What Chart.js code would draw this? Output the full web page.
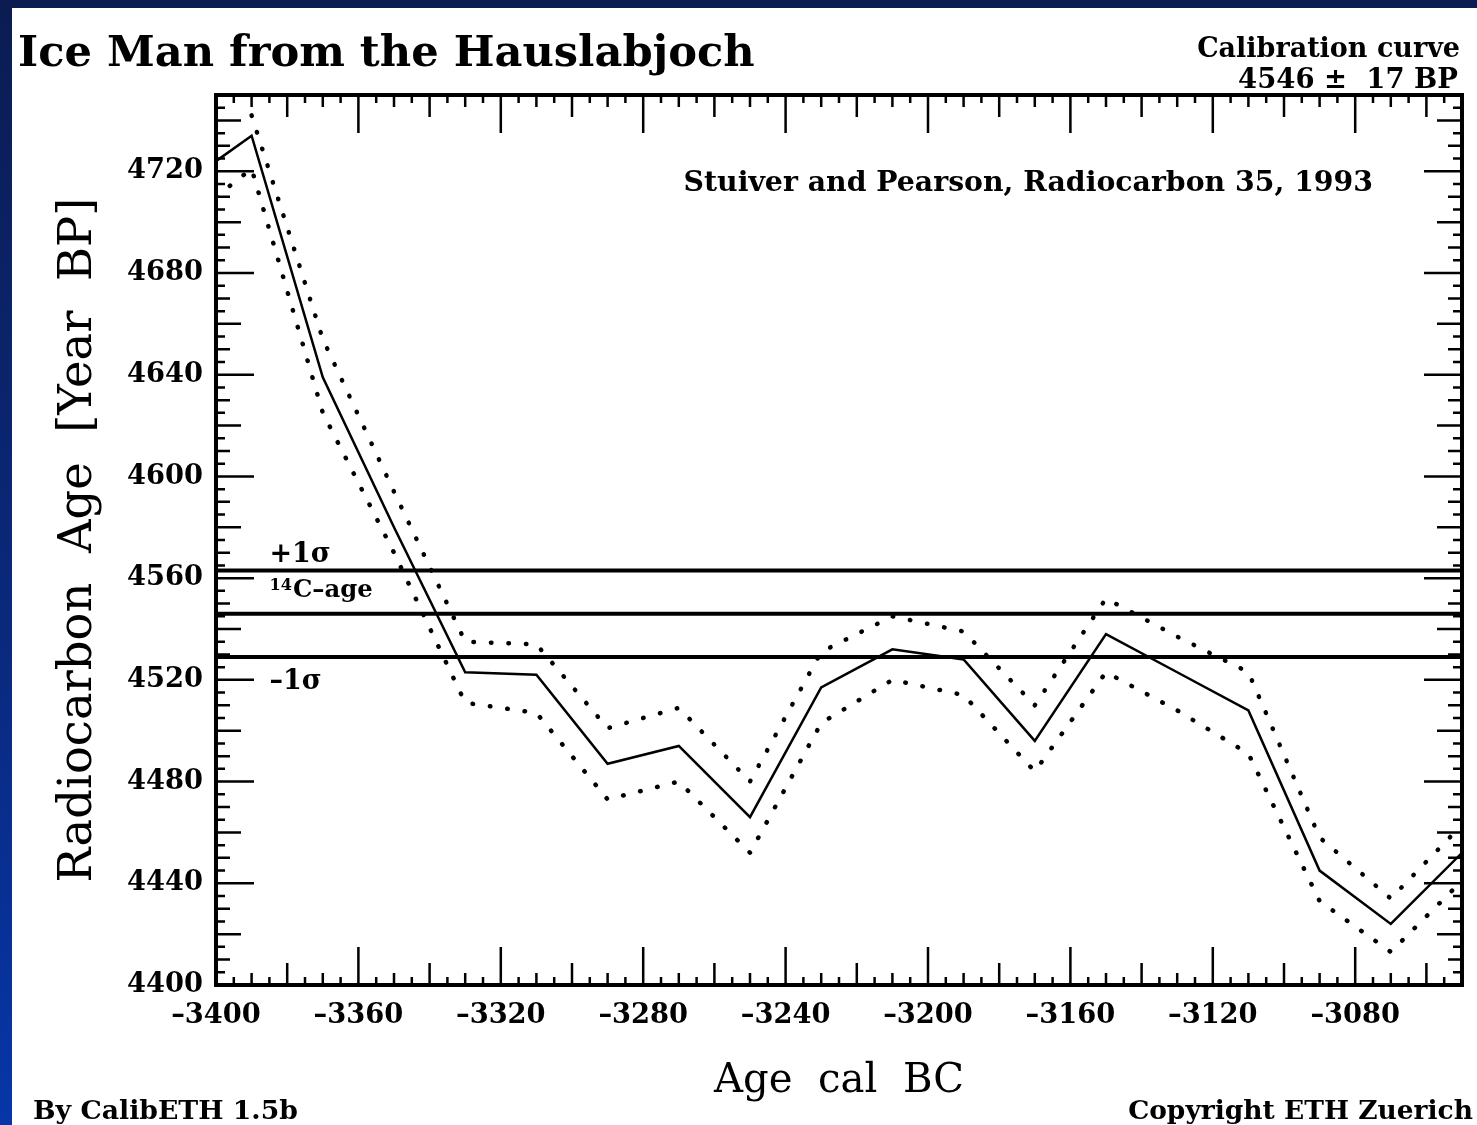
<!DOCTYPE html>
<html>
<head>
<meta charset="utf-8">
<title>Ice Man from the Hauslabjoch</title>
<script src="https://cdn.jsdelivr.net/npm/chart.js@4.4.1/dist/chart.umd.min.js"></script>
<style>
  html, body { margin: 0; padding: 0; }
  body {
    width: 1477px; height: 1125px; overflow: hidden; position: relative;
    background: linear-gradient(180deg, #0b1c52 0%, #0a2a80 60%, #0636a8 100%);
    font-family: 'DejaVu Serif', 'Liberation Serif', serif;
  }
  #sheet { position: absolute; left: 12px; top: 8px; width: 1465px; height: 1117px; background: #fff; }
  #chart { position: absolute; left: 0; top: 0; }
  .txt { position: absolute; color: #000; font-weight: bold; white-space: pre; line-height: 1; }
</style>
</head>
<body>
<div id="sheet">
  <canvas id="chart" width="1465" height="1117"></canvas>
  <div class="txt" id="title">Ice Man from the Hauslabjoch</div>
  <div class="txt" id="calib">Calibration curve</div>
  <div class="txt" id="calibVal">4546 ±  17 BP</div>
  <div class="txt" id="calibBy">By CalibETH 1.5b</div>
  <div class="txt" id="copyright">Copyright ETH Zuerich</div>
</div>
<script>
/* Ice Man calibration plot */

const SERIF = "'DejaVu Serif', 'Liberation Serif', serif";

// ─── Data ───
const calYears = [-3400, -3390, -3370, -3350, -3330, -3310, -3290, -3270, -3250, -3230,
  -3210, -3190, -3170, -3150, -3130, -3110, -3090, -3070, -3050];
const curveAge = [4724, 4734, 4639, 4580, 4523, 4522, 4487, 4494, 4466, 4517,
  4532, 4528, 4496, 4538, 4523, 4508, 4445, 4424, 4452];
const curveUpper = [null, 4742, 4654, 4594, 4535, 4534, 4501, 4509, 4480, 4531,
  4545, 4539, 4510, 4552, 4537, 4523, 4458, 4434, 4463];
const curveLower = [4710, 4721, 4625, 4570, 4511, 4507, 4473, 4480, 4452, 4503,
  4520, 4514, 4484, 4523, 4508, 4491, 4433, 4413, 4441];

const c14Age = 4546;
const c14Sigma = 17;

const xTicks = [-3400, -3360, -3320, -3280, -3240, -3200, -3160, -3120, -3080];
const yTicks = [4400, 4440, 4480, 4520, 4560, 4600, 4640, 4680, 4720];
const xMin = -3400, xMax = -3050;
const yMin = 4400, yMax = 4750;

const toPoints = (ys) => calYears.map((x, i) => ({ x, y: ys[i] }));
const hLine = (y) => [{ x: xMin, y }, { x: xMax, y }];

// ─── Text fitting ───
const measure = document.createElement('canvas').getContext('2d');
function fitSize(text, width, weight = 'normal') {
  measure.font = `${weight} 100px ${SERIF}`;
  return (100 * width) / measure.measureText(text).width;
}

// place an html label: cap-centre at cy (sheet coords)
function place(id, width, cy, side, offset) {
  const node = document.getElementById(id);
  const size = fitSize(node.textContent, width, 'bold');
  node.style.fontSize = `${size}px`;
  node.style.top = `${cy - 0.4 * size}px`;
  node.style[side] = `${offset}px`;
}
place('title', 737, 38, 'left', 6);
place('calib', 263, 37, 'right', 17);
place('calibVal', 220, 68, 'right', 19);
place('calibBy', 265, 1100, 'left', 21);
place('copyright', 345, 1100, 'right', 4);

const tickSize = fitSize('4720', 76, 'bold');
const xTitleText = 'Age  cal  BC';
const yTitleText = 'Radiocarbon  Age  [Year  BP]';
const xTitleSize = fitSize(xTitleText, 250);
const yTitleSize = fitSize(yTitleText, 685);

// ─── Frame, minor ticks and labels in the plot ───
const frameAndTicks = {
  id: 'frameAndTicks',
  afterDatasetsDraw(chart) {
    const { ctx, chartArea: a, scales: { x, y } } = chart;
    const every = (v, n) => Math.abs(v % n) === 0;
    ctx.save();
    ctx.strokeStyle = '#000';
    ctx.lineWidth = 2.5;
    ctx.beginPath();
    for (let v = xMin; v <= xMax; v += 5) {
      const len = every(v, 40) ? 38 : every(v, 20) ? 22 : every(v, 10) ? 12 : 8;
      const px = x.getPixelForValue(v);
      ctx.moveTo(px, a.bottom); ctx.lineTo(px, a.bottom - len);
      ctx.moveTo(px, a.top); ctx.lineTo(px, a.top + len);
    }
    for (let v = yMin; v <= yMax; v += 5) {
      const len = every(v, 40) ? 38 : every(v, 20) ? 25 : every(v, 10) ? 14 : 9;
      const py = y.getPixelForValue(v);
      ctx.moveTo(a.left, py); ctx.lineTo(a.left + len, py);
      ctx.moveTo(a.right, py); ctx.lineTo(a.right - len, py);
    }
    ctx.stroke();
    ctx.lineWidth = 4;
    ctx.strokeRect(a.left, a.top, a.right - a.left, a.bottom - a.top);

    // labels
    ctx.fillStyle = '#000';
    const ref = 'Stuiver and Pearson, Radiocarbon 35, 1993';
    ctx.font = `bold ${fitSize(ref, 690, 'bold')}px ${SERIF}`;
    ctx.textAlign = 'right';
    ctx.textBaseline = 'middle';
    ctx.fillText(ref, x.getPixelForValue(-3075), y.getPixelForValue(4715));

    ctx.textAlign = 'left';
    const lx = x.getPixelForValue(-3385);
    const small = 27;
    ctx.font = `bold ${small}px ${SERIF}`;
    ctx.textBaseline = 'bottom';
    ctx.fillText('+1σ', lx, y.getPixelForValue(c14Age + c14Sigma) - 2);
    ctx.textBaseline = 'top';
    ctx.fillText('–1σ', lx, y.getPixelForValue(c14Age - c14Sigma) + 12);

    const ageTop = y.getPixelForValue(c14Age + c14Sigma) + 8;
    ctx.font = `bold ${small * 0.6}px ${SERIF}`;
    ctx.fillText('14', lx, ageTop - 1);
    const supW = ctx.measureText('14').width;
    ctx.font = `bold ${small * 0.9}px ${SERIF}`;
    ctx.fillText('C–age', lx + supW + 1, ageTop);
    ctx.restore();
  },
};

// ─── Chart ───
Chart.defaults.color = '#000';
Chart.defaults.font.family = SERIF;

const dotted = { borderColor: '#000', borderWidth: 4.5, borderDash: [0.5, 17], borderCapStyle: 'round', pointRadius: 0, spanGaps: false };
const rule = { borderColor: '#000', borderWidth: 4, pointRadius: 0 };

new Chart(document.getElementById('chart'), {
  type: 'line',
  data: {
    datasets: [
      { label: '+1σ', data: hLine(c14Age + c14Sigma), ...rule },
      { label: '14C-age', data: hLine(c14Age), ...rule },
      { label: '-1σ', data: hLine(c14Age - c14Sigma), ...rule },
      { label: 'Upper', data: toPoints(curveUpper), ...dotted },
      { label: 'Lower', data: toPoints(curveLower), ...dotted },
      { label: 'Calibration curve', data: toPoints(curveAge), borderColor: '#000', borderWidth: 2.5, pointRadius: 0, tension: 0 },
    ],
  },
  options: {
    responsive: false,
    animation: false,
    layout: { padding: { left: 0, right: 15, top: 87, bottom: 0 } },
    plugins: { legend: { display: false }, tooltip: { enabled: false } },
    scales: {
      x: {
        type: 'linear', position: 'bottom', min: xMin, max: xMax,
        afterFit: (s) => { s.height = 140; },
        afterBuildTicks: (s) => { s.ticks = xTicks.map((value) => ({ value })); },
        grid: { display: false, drawTicks: false },
        border: { display: false },
        ticks: {
          font: { size: tickSize, weight: 'bold' }, padding: 31 - 0.6 * tickSize, maxRotation: 0, autoSkip: false,
          callback: (v) => '–' + Math.abs(v),
        },
        title: { display: true, text: xTitleText, font: { size: xTitleSize }, padding: { top: 0, bottom: 43 - 0.6 * xTitleSize } },
      },
      y: {
        type: 'linear', position: 'left', min: yMin, max: yMax,
        afterFit: (s) => { s.width = 204; },
        afterBuildTicks: (s) => { s.ticks = yTicks.map((value) => ({ value })); },
        grid: { display: false, drawTicks: false },
        border: { display: false },
        ticks: { font: { size: tickSize, weight: 'bold' }, padding: 13, autoSkip: false, callback: (v) => String(v) },
        title: { display: true, text: yTitleText, font: { size: yTitleSize }, padding: { top: 67 - 0.6 * yTitleSize, bottom: 0 } },
      },
    },
  },
  plugins: [frameAndTicks],
});
</script>
</body>
</html>
